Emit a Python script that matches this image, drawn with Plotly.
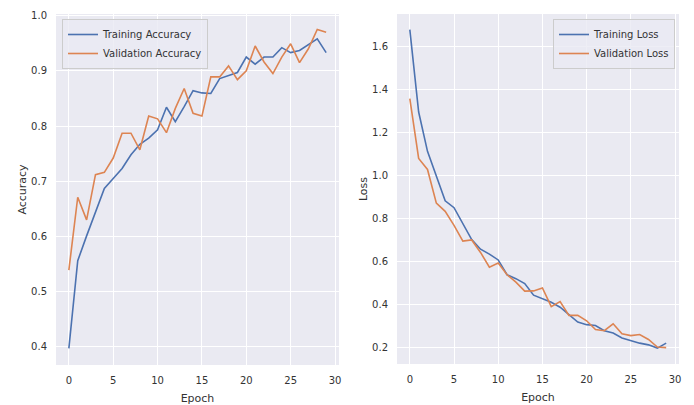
import plotly.graph_objects as go

epochs = list(range(30))

train_acc = [0.397, 0.556, 0.601, 0.646, 0.687, 0.705, 0.723, 0.748, 0.767, 0.778,
             0.793, 0.834, 0.808, 0.835, 0.864, 0.860, 0.859, 0.886, 0.892, 0.897,
             0.925, 0.912, 0.925, 0.925, 0.942, 0.933, 0.937, 0.948, 0.958, 0.933]
val_acc = [0.539, 0.671, 0.630, 0.712, 0.716, 0.742, 0.787, 0.787, 0.757, 0.818,
           0.813, 0.788, 0.832, 0.868, 0.823, 0.818, 0.889, 0.889, 0.909, 0.884,
           0.900, 0.945, 0.916, 0.895, 0.925, 0.949, 0.915, 0.940, 0.975, 0.970]
train_loss = [1.676, 1.293, 1.110, 0.994, 0.880, 0.848, 0.777, 0.700, 0.655, 0.632,
              0.605, 0.536, 0.518, 0.495, 0.441, 0.426, 0.408, 0.385, 0.350, 0.316,
              0.304, 0.300, 0.276, 0.265, 0.242, 0.229, 0.218, 0.210, 0.195, 0.218]
val_loss = [1.355, 1.077, 1.026, 0.869, 0.831, 0.766, 0.693, 0.698, 0.640, 0.571,
            0.591, 0.536, 0.502, 0.460, 0.461, 0.475, 0.388, 0.411, 0.347, 0.347,
            0.322, 0.281, 0.276, 0.308, 0.262, 0.253, 0.258, 0.235, 0.200, 0.197]

x_ticks = [0, 5, 10, 15, 20, 25, 30]
acc_ticks = [0.4, 0.5, 0.6, 0.7, 0.8, 0.9, 1.0]
loss_ticks = [0.2, 0.4, 0.6, 0.8, 1.0, 1.2, 1.4, 1.6]

BLUE = "#4C72B0"
ORANGE = "#DD8452"
BG = "#EAEAF2"
TXT = "#333333"
FONT = "DejaVu Sans"

fig = go.Figure()
fig.add_trace(go.Scatter(x=epochs, y=train_acc, mode="lines", name="Training Accuracy",
                         line=dict(color=BLUE, width=1.6), xaxis="x", yaxis="y", legend="legend"))
fig.add_trace(go.Scatter(x=epochs, y=val_acc, mode="lines", name="Validation Accuracy",
                         line=dict(color=ORANGE, width=1.6), xaxis="x", yaxis="y", legend="legend"))
fig.add_trace(go.Scatter(x=epochs, y=train_loss, mode="lines", name="Training Loss",
                         line=dict(color=BLUE, width=1.6), xaxis="x2", yaxis="y2", legend="legend2"))
fig.add_trace(go.Scatter(x=epochs, y=val_loss, mode="lines", name="Validation Loss",
                         line=dict(color=ORANGE, width=1.6), xaxis="x2", yaxis="y2", legend="legend2"))

W, H = 694, 405

def px_x(p):
    return p / W

def px_y(p):
    return 1 - p / H

common_x = dict(tickvals=x_ticks, range=[-1.45, 30.45], showgrid=True, gridcolor="white",
                gridwidth=1.3, zeroline=False, showline=False, ticks="", ticklabelstandoff=8,
                tickfont=dict(size=10, color=TXT, family=FONT), automargin=False,
                title=dict(text="Epoch", font=dict(size=11, color=TXT, family=FONT), standoff=9))

common_y = dict(showgrid=True, gridcolor="white", gridwidth=1.3, zeroline=False, showline=False,
                ticks="", ticklabelstandoff=8, tickformat=".1f",
                tickfont=dict(size=10, color=TXT, family=FONT), automargin=False)

fig.update_layout(
    width=W, height=H,
    margin=dict(l=0, r=0, t=0, b=0),
    paper_bgcolor="white",
    plot_bgcolor=BG,
    font=dict(family=FONT, color=TXT, size=10),
    xaxis=dict(domain=[px_x(56), px_x(339)], anchor="y", **common_x),
    yaxis=dict(domain=[px_y(365), px_y(14)], anchor="x", range=[0.367, 1.003], tickvals=acc_ticks,
               title=dict(text="Accuracy", font=dict(size=11, color=TXT, family=FONT), standoff=2),
               **common_y),
    xaxis2=dict(domain=[px_x(397), px_x(679)], anchor="y2", **common_x),
    yaxis2=dict(domain=[px_y(364), px_y(14)], anchor="x2", range=[0.121, 1.749], tickvals=loss_ticks,
                title=dict(text="Loss", font=dict(size=11, color=TXT, family=FONT), standoff=2),
                **common_y),
    legend=dict(x=px_x(62), y=px_y(19), xanchor="left", yanchor="top",
                bgcolor="rgba(234,234,242,0.8)", bordercolor="#CCCCCC", borderwidth=1,
                font=dict(size=10, color=TXT, family=FONT), itemwidth=30, tracegroupgap=0),
    legend2=dict(x=px_x(675), y=px_y(19), xanchor="right", yanchor="top",
                 bgcolor="rgba(234,234,242,0.8)", bordercolor="#CCCCCC", borderwidth=1,
                 font=dict(size=10, color=TXT, family=FONT), itemwidth=30, tracegroupgap=0),
    showlegend=True,
)

fig.write_html("out.html")
